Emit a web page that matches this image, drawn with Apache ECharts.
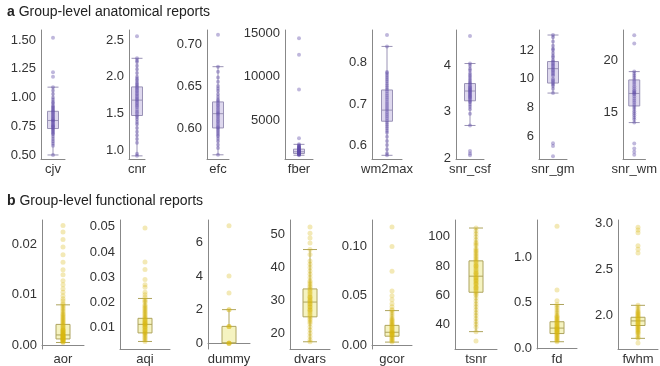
<!DOCTYPE html>
<html>
<head>
<meta charset="utf-8">
<style>
  html, body { margin: 0; padding: 0; background: #fff; }
  #chart { width: 660px; height: 366px; }
</style>
<script src="https://cdn.jsdelivr.net/npm/echarts@6/dist/echarts.min.js"></script>
</head>
<body>
<div id="chart"></div>
<script>
// ---- anatomical (a) ----
const cjv = [1.52, 1.22, 1.18, 1.09, 1.06, 1.03, 1.00, 0.98, 0.96, 0.95, 0.93, 0.92, 0.91, 0.90, 0.89, 0.88, 0.87, 0.86, 0.85, 0.84, 0.83, 0.82, 0.81, 0.80, 0.80, 0.79, 0.78, 0.77, 0.76, 0.75, 0.75, 0.74, 0.73, 0.72, 0.71, 0.70, 0.69, 0.68, 0.66, 0.64, 0.62, 0.60, 0.58, 0.50];
const cjvBox = [0.50, 0.73, 0.80, 0.88, 1.09];
const cjvTicks = [0.50, 0.75, 1.00, 1.25, 1.50];
const cjvRange = [0.465, 1.587];

const cnr = [2.55, 2.25, 2.22, 2.20, 2.15, 2.10, 2.05, 2.00, 1.97, 1.95, 1.92, 1.90, 1.88, 1.86, 1.84, 1.82, 1.80, 1.78, 1.76, 1.74, 1.72, 1.70, 1.68, 1.66, 1.64, 1.62, 1.60, 1.58, 1.55, 1.52, 1.50, 1.47, 1.45, 1.42, 1.38, 1.35, 1.30, 1.25, 1.20, 1.15, 1.10, 0.95, 0.92];
const cnrBox = [0.92, 1.47, 1.68, 1.86, 2.25];
const cnrTicks = [1.0, 1.5, 2.0, 2.5];
const cnrRange = [0.877, 2.636];

const efc = [0.711, 0.673, 0.667, 0.660, 0.655, 0.650, 0.647, 0.644, 0.640, 0.637, 0.634, 0.632, 0.630, 0.628, 0.626, 0.624, 0.622, 0.620, 0.618, 0.617, 0.615, 0.613, 0.611, 0.609, 0.607, 0.605, 0.603, 0.601, 0.600, 0.598, 0.596, 0.594, 0.592, 0.590, 0.587, 0.584, 0.580, 0.576, 0.568];
const efcBox = [0.568, 0.600, 0.617, 0.631, 0.673];
const efcTicks = [0.60, 0.65, 0.70];
const efcRange = [0.563, 0.7167];

const fber = [14400, 12500, 8500, 2900, 2200, 2100, 2000, 1950, 1900, 1850, 1800, 1750, 1700, 1650, 1600, 1550, 1500, 1450, 1420, 1400, 1380, 1350, 1330, 1300, 1280, 1250, 1220, 1200, 1180, 1150, 1120, 1100, 1080, 1050, 1000, 950];
const fberBox = [950, 1150, 1350, 1650, 2200];
const fberTicks = [5000, 10000, 15000];
const fberRange = [517, 15345];

const wm2max = [0.868, 0.840, 0.778, 0.775, 0.770, 0.765, 0.760, 0.755, 0.750, 0.745, 0.740, 0.735, 0.730, 0.725, 0.720, 0.715, 0.710, 0.705, 0.700, 0.695, 0.690, 0.685, 0.680, 0.675, 0.670, 0.665, 0.660, 0.655, 0.650, 0.645, 0.640, 0.635, 0.630, 0.620, 0.610, 0.600, 0.590, 0.580, 0.575];
const wm2maxBox = [0.575, 0.658, 0.685, 0.734, 0.840];
const wm2maxTicks = [0.6, 0.7, 0.8];
const wm2maxRange = [0.566, 0.880];

const snrCsf = [4.62, 4.03, 3.98, 3.92, 3.88, 3.82, 3.78, 3.74, 3.70, 3.66, 3.62, 3.60, 3.57, 3.54, 3.52, 3.50, 3.48, 3.46, 3.44, 3.42, 3.40, 3.38, 3.36, 3.34, 3.32, 3.30, 3.28, 3.25, 3.22, 3.20, 3.15, 3.10, 3.05, 2.95, 2.70, 2.15, 2.10, 2.06];
const snrCsfBox = [2.70, 3.23, 3.44, 3.60, 4.03];
const snrCsfTicks = [2, 3, 4];
const snrCsfRange = [1.98, 4.75];

const snrGm = [13.05, 12.9, 12.6, 12.3, 12.1, 12.0, 11.8, 11.6, 11.5, 11.3, 11.2, 11.1, 11.0, 10.9, 10.8, 10.7, 10.6, 10.5, 10.4, 10.3, 10.2, 10.0, 9.9, 9.8, 9.7, 9.6, 9.5, 9.3, 9.0, 5.5, 5.3, 4.6];
const snrGmBox = [9.0, 9.7, 10.7, 11.2, 13.05];
const snrGmTicks = [6, 8, 10, 12];
const snrGmRange = [4.4, 13.4];

const snrWm = [22.4, 21.6, 18.9, 18.7, 18.5, 18.3, 18.1, 17.9, 17.7, 17.5, 17.3, 17.1, 17.0, 16.9, 16.8, 16.7, 16.5, 16.3, 16.1, 15.9, 15.7, 15.5, 15.3, 15.1, 14.9, 14.7, 14.5, 14.3, 14.0, 12.0, 11.5, 11.2, 10.9];
const snrWmBox = [14.0, 15.6, 16.8, 18.1, 18.9];
const snrWmTicks = [15, 20];
const snrWmRange = [10.5, 22.9];

// ---- functional (b) ----
const aor = [0.0238, 0.0225, 0.0210, 0.0195, 0.0180, 0.0165, 0.0150, 0.0140, 0.0128, 0.0120, 0.0112, 0.0105, 0.0098, 0.0092, 0.0088, 0.0083, 0.0080, 0.0077, 0.0074, 0.0071, 0.0068, 0.0065, 0.0062, 0.0060, 0.0058, 0.0056, 0.0054, 0.0052, 0.0050, 0.0048, 0.0046, 0.0044, 0.0042, 0.0040, 0.0038, 0.0036, 0.0034, 0.0032, 0.0030, 0.0029, 0.0028, 0.0026, 0.0025, 0.0024, 0.0022, 0.0021, 0.0020, 0.0019, 0.0018, 0.0017, 0.0016, 0.0015, 0.0014, 0.0013, 0.0012, 0.0011, 0.0010, 0.0009, 0.0008, 0.0007, 0.0006, 0.0005, 0.0020, 0.0018, 0.0015, 0.0012, 0.0010, 0.0025, 0.0030];
const aorBox = [0.0005, 0.0012, 0.0020, 0.0041, 0.0080];
const aorTicks = [0.00, 0.01, 0.02];
const aorRange = [-0.0008, 0.0249];

const aqi = [0.0495, 0.036, 0.033, 0.029, 0.027, 0.026, 0.024, 0.023, 0.022, 0.021, 0.0205, 0.020, 0.019, 0.0185, 0.018, 0.0175, 0.017, 0.0165, 0.016, 0.0155, 0.015, 0.0145, 0.014, 0.0136, 0.013, 0.0125, 0.012, 0.0115, 0.0112, 0.011, 0.0105, 0.010, 0.0095, 0.009, 0.0085, 0.008, 0.0078, 0.0075, 0.007, 0.0065, 0.006, 0.0055, 0.005, 0.0044, 0.012, 0.011, 0.010, 0.009, 0.013];
const aqiBox = [0.0044, 0.0078, 0.0112, 0.0136, 0.0215];
const aqiTicks = [0.01, 0.02, 0.03, 0.04, 0.05];
const aqiRange = [0.0014, 0.0527];

const dummy = [7, 4, 3, 2, 2, 1, 1, 1, 0, 0, 0, 0];
const dummyBox = [0, 0, 0, 1, 2];
const dummyTicks = [0, 2, 4, 6];
const dummyRange = [-0.35, 7.35];

const dvars = [52.4, 50.5, 49, 47.5, 45.5, 44, 42, 41, 40, 39, 38, 37, 36, 35.5, 35, 34.5, 34, 33.5, 33, 32.5, 32, 31.5, 31, 30.5, 30, 29.5, 29, 28.5, 28, 27.5, 27, 26.5, 26, 25.5, 25, 24.5, 24, 23.5, 23, 22, 21, 20, 19, 18, 17.4, 30, 29, 28, 31, 27];
const dvarsBox = [17.4, 25, 29.5, 33.5, 45.5];
const dvarsTicks = [20, 30, 40, 50];
const dvarsRange = [15.2, 54.5];

const gcor = [0.120, 0.100, 0.075, 0.055, 0.050, 0.046, 0.042, 0.039, 0.036, 0.035, 0.033, 0.031, 0.029, 0.027, 0.026, 0.025, 0.024, 0.023, 0.022, 0.021, 0.020, 0.019, 0.018, 0.017, 0.016, 0.015, 0.014, 0.013, 0.012, 0.011, 0.010, 0.009, 0.008, 0.007, 0.006, 0.005, 0.004, 0.003, 0.013, 0.012, 0.010];
const gcorBox = [0.003, 0.009, 0.013, 0.020, 0.035];
const gcorTicks = [0.00, 0.05, 0.10];
const gcorRange = [-0.004, 0.127];

const tsnr = [106, 104, 102, 100, 98, 96, 95, 94, 92, 91, 90, 89, 88, 87, 86, 85, 84, 83, 82, 81, 80, 79, 78, 77, 76, 75, 74, 73, 72, 71, 70, 69, 68, 67, 66, 65, 64, 63, 62, 61, 60, 58, 56, 54, 52, 50, 48, 46, 44, 42, 40, 38, 35, 28.5, 80, 75, 72, 70, 68, 65];
const tsnrBox = [35, 62, 73, 83.5, 106];
const tsnrTicks = [40, 60, 80, 100];
const tsnrRange = [23.1, 111.5];

const fd = [1.34, 0.64, 0.52, 0.48, 0.46, 0.44, 0.42, 0.40, 0.38, 0.36, 0.35, 0.34, 0.33, 0.32, 0.31, 0.30, 0.29, 0.28, 0.27, 0.26, 0.25, 0.24, 0.23, 0.22, 0.21, 0.20, 0.19, 0.18, 0.17, 0.16, 0.15, 0.14, 0.13, 0.12, 0.11, 0.10, 0.09, 0.08, 0.07, 0.22, 0.20, 0.18];
const fdBox = [0.07, 0.16, 0.22, 0.29, 0.48];
const fdTicks = [0.0, 0.5, 1.0];
const fdRange = [-0.01, 1.41];

const fwhm = [2.96, 2.93, 2.90, 2.76, 2.72, 2.68, 2.11, 2.09, 2.07, 2.05, 2.04, 2.03, 2.02, 2.01, 2.00, 1.99, 1.98, 1.97, 1.96, 1.95, 1.94, 1.93, 1.92, 1.91, 1.90, 1.89, 1.88, 1.87, 1.86, 1.85, 1.84, 1.83, 1.82, 1.81, 1.80, 1.78, 1.76, 1.75, 1.70];
const fwhmBox = [1.75, 1.89, 1.94, 1.98, 2.11];
const fwhmTicks = [2.0, 2.5, 3.0];
const fwhmRange = [1.634, 3.04];

const panels = [
  { name: 'cjv', points: cjv, box: cjvBox, ticks: cjvTicks, range: cjvRange, dec: 2, row: 0 },
  { name: 'cnr', points: cnr, box: cnrBox, ticks: cnrTicks, range: cnrRange, dec: 1, row: 0 },
  { name: 'efc', points: efc, box: efcBox, ticks: efcTicks, range: efcRange, dec: 2, row: 0 },
  { name: 'fber', points: fber, box: fberBox, ticks: fberTicks, range: fberRange, dec: 0, row: 0 },
  { name: 'wm2max', points: wm2max, box: wm2maxBox, ticks: wm2maxTicks, range: wm2maxRange, dec: 1, row: 0 },
  { name: 'snr_csf', points: snrCsf, box: snrCsfBox, ticks: snrCsfTicks, range: snrCsfRange, dec: 0, row: 0 },
  { name: 'snr_gm', points: snrGm, box: snrGmBox, ticks: snrGmTicks, range: snrGmRange, dec: 0, row: 0 },
  { name: 'snr_wm', points: snrWm, box: snrWmBox, ticks: snrWmTicks, range: snrWmRange, dec: 0, row: 0 },
  { name: 'aor', points: aor, box: aorBox, ticks: aorTicks, range: aorRange, dec: 2, row: 1 },
  { name: 'aqi', points: aqi, box: aqiBox, ticks: aqiTicks, range: aqiRange, dec: 2, row: 1 },
  { name: 'dummy', points: dummy, box: dummyBox, ticks: dummyTicks, range: dummyRange, dec: 0, row: 1 },
  { name: 'dvars', points: dvars, box: dvarsBox, ticks: dvarsTicks, range: dvarsRange, dec: 0, row: 1 },
  { name: 'gcor', points: gcor, box: gcorBox, ticks: gcorTicks, range: gcorRange, dec: 2, row: 1 },
  { name: 'tsnr', points: tsnr, box: tsnrBox, ticks: tsnrTicks, range: tsnrRange, dec: 0, row: 1 },
  { name: 'fd', points: fd, box: fdBox, ticks: fdTicks, range: fdRange, dec: 1, row: 1 },
  { name: 'fwhm', points: fwhm, box: fwhmBox, ticks: fwhmTicks, range: fwhmRange, dec: 1, row: 1 }
];

// layout: y-axis x position and box centre, per panel
const axisX = [41, 129, 207, 285, 372, 456, 539, 623, 42, 120, 208, 290, 372, 455, 537, 618];
const boxX = [53, 137, 218, 299, 387, 470, 553, 637, 63, 145, 229, 310, 392, 476, 557, 638];
const rows = [{ top: 30, height: 129 }, { top: 220, height: 131 }];

const themes = [
  { point: '#5e4ca8', pointOpacity: 0.4, fill: 'rgba(214,206,234,0.8)', border: '#9a93b6', boxW: 11, size: 4 },
  { point: '#d6b50c', pointOpacity: 0.3, fill: 'rgba(244,242,186,0.9)', border: '#aea45e', boxW: 14, size: 5 }
];

const font = '"Liberation Sans", Arial, sans-serif';
const chart = echarts.init(document.getElementById('chart'));

const grid = [], xAxis = [], yAxis = [], series = [];
panels.forEach((p, i) => {
  const r = rows[p.row];
  const th = themes[p.row];
  grid.push({ left: axisX[i], top: r.top, width: 2 * (boxX[i] - axisX[i]), height: r.height });
  xAxis.push({
    type: 'category', gridIndex: i, data: [p.name],
    axisLine: { lineStyle: { color: '#888', width: 1 } },
    axisTick: { show: false },
    axisLabel: { fontSize: 13, color: '#333', margin: 4, fontFamily: font }
  });
  yAxis.push({
    type: 'value', gridIndex: i, min: p.range[0], max: p.range[1],
    splitLine: { show: false },
    axisLine: { show: true, lineStyle: { color: '#888', width: 1 } },
    axisTick: { show: false },
    axisLabel: {
      customValues: p.ticks, fontSize: 13, color: '#333', margin: 5, fontFamily: font,
      formatter: v => v.toFixed(p.dec)
    }
  });
  series.push({
    type: 'boxplot', xAxisIndex: i, yAxisIndex: i, data: [p.box],
    boxWidth: [th.boxW, th.boxW],
    itemStyle: { color: th.fill, borderColor: th.border, borderWidth: 1 },
    silent: true, z: 2
  });
  series.push({
    type: 'scatter', xAxisIndex: i, yAxisIndex: i,
    data: p.points.map(v => [0, v]),
    symbolSize: th.size,
    itemStyle: { color: th.point, opacity: th.pointOpacity },
    silent: true, z: 3
  });
});

chart.setOption({
  animation: false,
  textStyle: { fontFamily: font },
  title: [
    {
      text: '{b|a} Group-level anatomical reports', left: 2, top: 0,
      textStyle: { fontSize: 14, fontWeight: 'normal', color: '#222', fontFamily: font,
        rich: { b: { fontSize: 14, fontWeight: 'bold', color: '#222', fontFamily: font } } }
    },
    {
      text: '{b|b} Group-level functional reports', left: 2, top: 189,
      textStyle: { fontSize: 14, fontWeight: 'normal', color: '#222', fontFamily: font,
        rich: { b: { fontSize: 14, fontWeight: 'bold', color: '#222', fontFamily: font } } }
    }
  ],
  grid, xAxis, yAxis, series
});
</script>
</body>
</html>
